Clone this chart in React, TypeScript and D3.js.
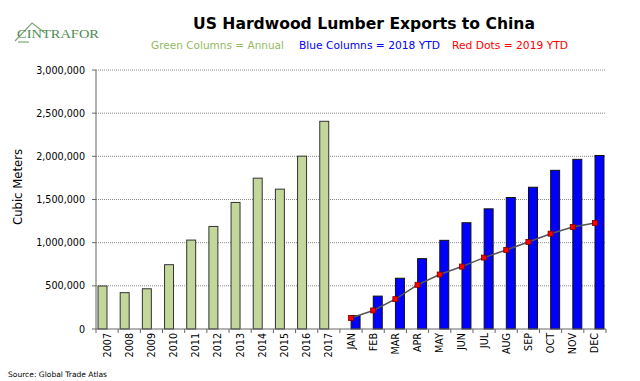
import React from "react";
import * as d3 from "d3";

const years = ["2007","2008","2009","2010","2011","2012","2013","2014","2015","2016","2017"];
const months = ["JAN","FEB","MAR","APR","MAY","JUN","JUL","AUG","SEP","OCT","NOV","DEC"];
const annualValues = [498000, 421000, 466000, 745000, 1030000, 1188000, 1466000, 1747000, 1620000, 2002000, 2406000];
const ytd2018 = [154000, 381000, 588000, 815000, 1027000, 1231000, 1392000, 1523000, 1642000, 1838000, 1965000, 2010000];
const ytd2019 = [127000, 215000, 346000, 512000, 631000, 723000, 827000, 915000, 1008000, 1104000, 1181000, 1227000];
const yTicks = [0, 500000, 1000000, 1500000, 2000000, 2500000, 3000000];

const categories = [...years, ...months];

const W = 640, H = 381;
const left = 96, right = 606, top = 70, bottom = 329;

export default function App() {
  const x = d3.scaleBand<string>().domain(categories).range([left, right]).paddingInner(0).paddingOuter(0);
  const sub = d3.scaleBand<string>().domain(["annual", "ytd"]).range([0, x.bandwidth()]).paddingInner(0.02).paddingOuter(0.22);
  const y = d3.scaleLinear().domain([0, 3000000]).range([bottom, top]);
  const fmt = d3.format(",");
  const line = d3.line<number>()
    .x((_, i) => (x(months[i]) as number) + x.bandwidth() / 2)
    .y((d) => y(d));
  const font = "'DejaVu Sans', Verdana, sans-serif";
  const bounds = categories.map((c) => x(c) as number).concat([right]);

  return (
    <svg width={W} height={H} style={{ position: "absolute", left: 0, top: 0, background: "#fff" }} fontFamily={font}>
      {/* logo */}
      <path d="M15,41 L32,23 L45,33" fill="none" stroke="#7aab72" strokeWidth={1.2} />
      <path d="M18,42 L29,42" fill="none" stroke="#7aab72" strokeWidth={1.2} />
      <text x={17} y={38} fontFamily="'Liberation Serif', 'DejaVu Serif', serif" fontSize={11.5} fill="#4f8a55" textLength={82} lengthAdjust="spacingAndGlyphs">CINTRAFOR</text>

      {/* title */}
      <text x={193} y={29} fontSize={16.5} fontWeight="bold" fill="#000" textLength={342} lengthAdjust="spacingAndGlyphs">US Hardwood Lumber Exports to China</text>
      <text x={151} y={49} fontSize={11} fill="#93b960" textLength={133} lengthAdjust="spacingAndGlyphs">Green Columns = Annual</text>
      <text x={299} y={49} fontSize={11} fill="#0000ff" textLength={141} lengthAdjust="spacingAndGlyphs">Blue Columns = 2018 YTD</text>
      <text x={452} y={49} fontSize={11} fill="#ff0000" textLength={116} lengthAdjust="spacingAndGlyphs">Red Dots = 2019 YTD</text>

      {/* gridlines */}
      {yTicks.filter((t) => t > 0).map((t) => (
        <line key={"g" + t} x1={left} x2={right} y1={y(t)} y2={y(t)} stroke="#8a8a8a" strokeWidth={1} strokeDasharray="1,1" />
      ))}

      {/* y axis */}
      <line x1={left} x2={left} y1={top} y2={bottom} stroke="#666" strokeWidth={1} />
      {yTicks.map((t) => (
        <g key={"t" + t}>
          <line x1={left - 4} x2={left} y1={y(t)} y2={y(t)} stroke="#666" />
          <text x={85} y={y(t) + 3.5} textAnchor="end" fontSize={9.6} fill="#000">{fmt(t)}</text>
        </g>
      ))}
      <text transform={`translate(22,187) rotate(-90)`} textAnchor="middle" fontSize={11.5} fill="#000" textLength={76} lengthAdjust="spacingAndGlyphs">Cubic Meters</text>

      {/* bars */}
      {years.map((c, i) => (
        <rect key={c} x={(x(c) as number) + (sub("annual") as number)} y={y(annualValues[i])} width={sub.bandwidth()} height={bottom - y(annualValues[i])} fill="#c4d79b" stroke="#333" strokeWidth={1} />
      ))}
      {months.map((c, i) => (
        <rect key={c} x={(x(c) as number) + (sub("ytd") as number)} y={y(ytd2018[i])} width={sub.bandwidth()} height={bottom - y(ytd2018[i])} fill="#0000ff" stroke="#111" strokeWidth={1} />
      ))}

      {/* x axis */}
      <line x1={left} x2={right} y1={bottom} y2={bottom} stroke="#666" strokeWidth={1} />
      {bounds.map((b, i) => (
        <line key={"xt" + i} x1={b} x2={b} y1={bottom} y2={bottom + 4} stroke="#666" />
      ))}
      {categories.map((c) => (
        <text key={"l" + c} transform={`translate(${(x(c) as number) + x.bandwidth() / 2 + 3.5},${bottom + 4}) rotate(-90)`} textAnchor="end" fontSize={9.6} fill="#000">{c}</text>
      ))}

      {/* 2019 line */}
      <path d={line(ytd2019) || ""} fill="none" stroke="#555" strokeWidth={1.5} />
      {ytd2019.map((v, i) => (
        <rect key={"d" + i} x={(x(months[i]) as number) + x.bandwidth() / 2 - 2.5} y={y(v) - 2.5} width={5} height={5} fill="#ff0000" stroke="#700" strokeWidth={0.8} />
      ))}

      <text x={8} y={377} fontSize={7.5} fill="#000" textLength={99} lengthAdjust="spacingAndGlyphs">Source: Global Trade Atlas</text>
    </svg>
  );
}
